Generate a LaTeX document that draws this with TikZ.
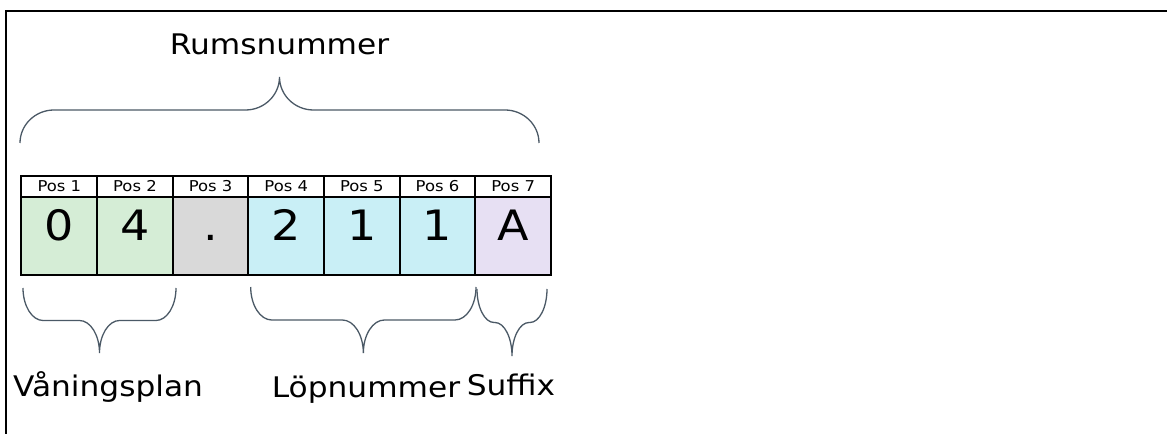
\documentclass[tikz,border=0pt]{standalone}
\usepackage{fontspec}
\setmainfont{DejaVu Sans}[FakeStretch=1.1]
\usetikzlibrary{positioning}

\definecolor{floorgreen}{HTML}{D5EDD6}
\definecolor{dotgray}{HTML}{D9D9D9}
\definecolor{runblue}{HTML}{C9EFF6}
\definecolor{suffixlilac}{HTML}{E7E0F3}
\definecolor{bracegray}{HTML}{4B5966}

% curly brace: left x, right x, end y, depth, corner
\newcommand{\roombrace}[5]{%
  \pgfmathsetmacro{\xm}{(#1+#2)/2}%
  \pgfmathsetmacro{\hh}{#4/2}%
  \draw[bracestyle] (#1,#3) .. controls +(0,0.55*\hh) and +(-0.55*#5,0) .. (#1+#5,#3+\hh)
    -- (\xm-#5,#3+\hh) .. controls +(0.55*#5,0) and +(0,-0.55*\hh) .. (\xm,#3+#4)
    .. controls +(0,-0.55*\hh) and +(-0.55*#5,0) .. (\xm+#5,#3+\hh)
    -- (#2-#5,#3+\hh) .. controls +(0.55*#5,0) and +(0,0.55*\hh) .. (#2,#3);}

\begin{document}
\begin{tikzpicture}[x=1bp,y=-1bp,node distance=0pt,
        cell/.style={draw,line width=2bp,rectangle,minimum width=75.64bp,minimum height=78bp,
          outer sep=0pt,inner sep=0pt,text height=31bp,text depth=21bp,font=\fontsize{42}{42}\selectfont},
        head/.style={draw,line width=2bp,rectangle,minimum width=75.64bp,minimum height=21bp,
          outer sep=0pt,inner sep=0pt,text height=11bp,text depth=0bp,font=\fontsize{15}{15}\selectfont},
        partname/.style={anchor=base,inner sep=0pt,font=\fontsize{28.5}{30}\selectfont},
        bracestyle/.style={draw=bracegray,line width=1.3bp}]

        \useasboundingbox (0,0) rectangle (1167,434);
        \draw[line width=2bp] (6,434) -- (6,11) -- (1167,11);

        \node[cell,fill=floorgreen] (c1) at (59.32,236) {0};
        \node[cell,fill=floorgreen] (c2) [right = of c1] {4};
        \node[cell,fill=dotgray] (c3) [right = of c2] {.};
        \node[cell,fill=runblue] (c4) [right = of c3] {2};
        \node[cell,fill=runblue] (c5) [right = of c4] {1};
        \node[cell,fill=runblue] (c6) [right = of c5] {1};
        \node[cell,fill=suffixlilac] (c7) [right = of c6] {A};

        \node[head] (h1) [above = of c1] {Pos 1};
        \node[head] (h2) [above = of c2] {Pos 2};
        \node[head] (h3) [above = of c3] {Pos 3};
        \node[head] (h4) [above = of c4] {Pos 4};
        \node[head] (h5) [above = of c5] {Pos 5};
        \node[head] (h6) [above = of c6] {Pos 6};
        \node[head] (h7) [above = of c7] {Pos 7};

        \node[partname] (room) at (279.5,55) {Rumsnummer};
        \node[partname] (floor) at (108,397) {Våningsplan};
        \node[partname] (run) at (366,398) {Löpnummer};
        \node[partname] (suffix) at (511,396) {Suffix};

        \roombrace{20}{539}{143}{-66}{34}
        \roombrace{23}{176}{288}{65}{20}
        \roombrace{250.7}{476}{287}{66}{21}
        \roombrace{477}{547}{289}{67}{17}
\end{tikzpicture}
\end{document}
